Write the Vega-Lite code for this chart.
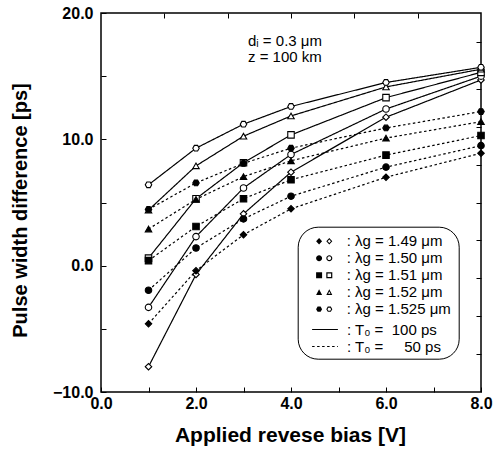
{
  "$schema": "https://vega.github.io/schema/vega-lite/v6.json",
  "width": 380,
  "height": 379,
  "autosize": {"type": "none"},
  "padding": {"left": 101, "top": 13, "right": 21, "bottom": 60},
  "background": "white",
  "config": {
    "view": {"stroke": "black", "strokeWidth": 1.5, "fill": "white"},
    "font": "Liberation Sans",
    "axis": {"grid": false, "domain": false, "tickColor": "black", "tickWidth": 1, "labelColor": "black", "titleColor": "black", "labelFont": "Liberation Sans", "titleFont": "Liberation Sans"},
    "legend": {"labelFont": "Liberation Sans", "titleFont": "Liberation Sans", "labelColor": "black"}
  },
  "title": {
    "text": ["dᵢ = 0.3 μm", "z = 100 km"],
    "orient": "top", "anchor": "start", "frame": "group",
    "offset": 0, "dx": 147, "dy": 60, "baseline": "top",
    "font": "Liberation Sans", "fontSize": 15, "fontWeight": "normal", "lineHeight": 16, "color": "black"
  },
  "data": {
    "values": [
      {"lambda": "1.49", "T0": "100", "bias": 1, "diff": -8.0},
      {"lambda": "1.49", "T0": "100", "bias": 2, "diff": -0.7},
      {"lambda": "1.49", "T0": "100", "bias": 3, "diff": 4.1},
      {"lambda": "1.49", "T0": "100", "bias": 4, "diff": 7.4},
      {"lambda": "1.49", "T0": "100", "bias": 6, "diff": 11.75},
      {"lambda": "1.49", "T0": "100", "bias": 8, "diff": 14.7},
      {"lambda": "1.49", "T0": "50", "bias": 1, "diff": -4.6},
      {"lambda": "1.49", "T0": "50", "bias": 2, "diff": -0.4},
      {"lambda": "1.49", "T0": "50", "bias": 3, "diff": 2.45},
      {"lambda": "1.49", "T0": "50", "bias": 4, "diff": 4.5},
      {"lambda": "1.49", "T0": "50", "bias": 6, "diff": 7.0},
      {"lambda": "1.49", "T0": "50", "bias": 8, "diff": 8.9},
      {"lambda": "1.50", "T0": "100", "bias": 1, "diff": -3.3},
      {"lambda": "1.50", "T0": "100", "bias": 2, "diff": 2.3},
      {"lambda": "1.50", "T0": "100", "bias": 3, "diff": 6.15},
      {"lambda": "1.50", "T0": "100", "bias": 4, "diff": 8.8},
      {"lambda": "1.50", "T0": "100", "bias": 6, "diff": 12.4},
      {"lambda": "1.50", "T0": "100", "bias": 8, "diff": 15.0},
      {"lambda": "1.50", "T0": "50", "bias": 1, "diff": -1.95},
      {"lambda": "1.50", "T0": "50", "bias": 2, "diff": 1.4},
      {"lambda": "1.50", "T0": "50", "bias": 3, "diff": 3.7},
      {"lambda": "1.50", "T0": "50", "bias": 4, "diff": 5.5},
      {"lambda": "1.50", "T0": "50", "bias": 6, "diff": 7.8},
      {"lambda": "1.50", "T0": "50", "bias": 8, "diff": 9.5},
      {"lambda": "1.51", "T0": "100", "bias": 1, "diff": 0.6},
      {"lambda": "1.51", "T0": "100", "bias": 2, "diff": 5.3},
      {"lambda": "1.51", "T0": "100", "bias": 3, "diff": 8.15},
      {"lambda": "1.51", "T0": "100", "bias": 4, "diff": 10.35},
      {"lambda": "1.51", "T0": "100", "bias": 6, "diff": 13.3},
      {"lambda": "1.51", "T0": "100", "bias": 8, "diff": 15.3},
      {"lambda": "1.51", "T0": "50", "bias": 1, "diff": 0.4},
      {"lambda": "1.51", "T0": "50", "bias": 2, "diff": 3.1},
      {"lambda": "1.51", "T0": "50", "bias": 3, "diff": 5.3},
      {"lambda": "1.51", "T0": "50", "bias": 4, "diff": 6.8},
      {"lambda": "1.51", "T0": "50", "bias": 6, "diff": 8.75},
      {"lambda": "1.51", "T0": "50", "bias": 8, "diff": 10.3},
      {"lambda": "1.52", "T0": "100", "bias": 1, "diff": 4.4},
      {"lambda": "1.52", "T0": "100", "bias": 2, "diff": 7.9},
      {"lambda": "1.52", "T0": "100", "bias": 3, "diff": 10.25},
      {"lambda": "1.52", "T0": "100", "bias": 4, "diff": 11.85},
      {"lambda": "1.52", "T0": "100", "bias": 6, "diff": 14.15},
      {"lambda": "1.52", "T0": "100", "bias": 8, "diff": 15.55},
      {"lambda": "1.52", "T0": "50", "bias": 1, "diff": 2.9},
      {"lambda": "1.52", "T0": "50", "bias": 2, "diff": 5.25},
      {"lambda": "1.52", "T0": "50", "bias": 3, "diff": 7.05},
      {"lambda": "1.52", "T0": "50", "bias": 4, "diff": 8.3},
      {"lambda": "1.52", "T0": "50", "bias": 6, "diff": 10.1},
      {"lambda": "1.52", "T0": "50", "bias": 8, "diff": 11.4},
      {"lambda": "1.525", "T0": "100", "bias": 1, "diff": 6.4},
      {"lambda": "1.525", "T0": "100", "bias": 2, "diff": 9.3},
      {"lambda": "1.525", "T0": "100", "bias": 3, "diff": 11.2},
      {"lambda": "1.525", "T0": "100", "bias": 4, "diff": 12.6},
      {"lambda": "1.525", "T0": "100", "bias": 6, "diff": 14.5},
      {"lambda": "1.525", "T0": "100", "bias": 8, "diff": 15.7},
      {"lambda": "1.525", "T0": "50", "bias": 1, "diff": 4.45},
      {"lambda": "1.525", "T0": "50", "bias": 2, "diff": 6.55},
      {"lambda": "1.525", "T0": "50", "bias": 3, "diff": 8.1},
      {"lambda": "1.525", "T0": "50", "bias": 4, "diff": 9.3},
      {"lambda": "1.525", "T0": "50", "bias": 6, "diff": 10.9},
      {"lambda": "1.525", "T0": "50", "bias": 8, "diff": 12.2}
    ]
  },
  "layer": [
    {
      "mark": {"type": "line", "color": "black", "strokeWidth": 1.2},
      "encoding": {
        "x": {"field": "bias", "type": "quantitative", "scale": {"domain": [0, 8], "nice": false},
          "axis": {"orient": "bottom", "values": [0, 1, 2, 3, 4, 5, 6, 7, 8], "labelExpr": "datum.value % 2 === 0 ? format(datum.value, '.1f') : ''",
            "tickSize": -5, "labelPadding": 8, "labelFontSize": 16, "labelFontWeight": "bold", "labelFlush": false,
            "title": "Applied revese bias [V]", "titleFontSize": 21, "titleFontWeight": "bold", "titleX": 189, "titleY": 43, "titleBaseline": "middle", "titleAnchor": "middle"}},
        "y": {"field": "diff", "type": "quantitative", "scale": {"domain": [-10, 20], "nice": false},
          "axis": {"orient": "left", "values": [-10, -5, 0, 5, 10, 15, 20], "labelExpr": "datum.value % 10 === 0 ? format(datum.value, '.1f') : ''",
            "tickSize": -5, "labelPadding": 13, "labelFontSize": 16, "labelFontWeight": "bold", "labelFlush": false,
            "title": "Pulse width difference [ps]", "titleFontSize": 20, "titleFontWeight": "bold", "titleX": -81, "titleY": 197, "titleBaseline": "middle", "titleAngle": -90, "titleAnchor": "middle"}},
        "detail": {"field": "lambda", "type": "nominal"},
        "strokeDash": {"field": "T0", "type": "nominal",
          "scale": {"domain": ["100", "50"], "range": [[1, 0], [2.5, 2.5]]},
          "legend": {"orient": "none", "legendX": 216.5, "legendY": 309, "title": null, "padding": 0,
            "symbolType": "M-4.3,0L4.3,0", "symbolSize": 36, "symbolStrokeColor": "black", "symbolStrokeWidth": 1.2,
            "labelOffset": 14.5, "rowPadding": 1, "labelFontSize": 15,
            "labelExpr": "datum.value === '100' ? ': T₀ =\u00a0\u00a0100 ps' : ': T₀ =\u00a0\u00a0\u2007\u00a050 ps'"}}
      }
    },
    {
      "mark": {"type": "point", "stroke": "black", "strokeWidth": 1.1, "size": 42, "opacity": 1},
      "encoding": {
        "x": {"field": "bias", "type": "quantitative",
          "axis": {"orient": "top", "values": [1.333, 2.667, 4, 5.333, 6.667], "labels": false, "title": null, "tickSize": -5}},
        "y": {"field": "diff", "type": "quantitative",
          "axis": {"orient": "right", "values": [-7, -4, -1, 2, 5, 8, 11, 14, 17.7], "labels": false, "title": null, "tickSize": -5}},
        "shape": {"field": "lambda", "type": "nominal",
          "scale": {"domain": ["1.49", "1.50", "1.51", "1.52", "1.525"], "range": ["diamond", "circle", "square", "triangle-up", "M-1,0L-0.5,-0.87L0.5,-0.87L1,0L0.5,0.87L-0.5,0.87Z"]},
          "legend": null},
        "fill": {"field": "T0", "type": "nominal", "scale": {"domain": ["100", "50"], "range": ["white", "black"]}, "legend": null}
      }
    },
    {
      "mark": {"type": "point", "filled": true, "color": "black", "opacity": 0, "size": 36, "strokeWidth": 0},
      "encoding": {
        "x": {"field": "bias", "type": "quantitative", "axis": null},
        "y": {"field": "diff", "type": "quantitative", "axis": null},
        "shape": {"field": "lambda", "type": "nominal",
          "scale": {"domain": ["1.49", "1.50", "1.51", "1.52", "1.525"], "range": [
            "M-2.7,0L-1.7,-1.1L-0.7,0L-1.7,1.1ZM0.7,0L1.7,-1.1L2.7,0L1.7,1.1ZM1.15,0L1.7,0.6L2.25,0L1.7,-0.6Z",
            "M-2.7,0A1,1 0 1,0 -0.7,0A1,1 0 1,0 -2.7,0ZM0.7,0A1,1 0 1,0 2.7,0A1,1 0 1,0 0.7,0ZM1.08,0A0.62,0.62 0 1,1 2.32,0A0.62,0.62 0 1,1 1.08,0Z",
            "M-2.7,-1L-0.7,-1L-0.7,1L-2.7,1ZM0.7,-1L2.7,-1L2.7,1L0.7,1ZM1.1,-0.6L1.1,0.6L2.3,0.6L2.3,-0.6Z",
            "M-2.7,0.9L-1.7,-1L-0.7,0.9ZM0.7,0.9L1.7,-1L2.7,0.9ZM1.3,0.55L2.1,0.55L1.7,-0.25Z",
            "M-0.7,0L-1.2,-0.87L-2.2,-0.87L-2.7,0L-2.2,0.87L-1.2,0.87ZM2.7,0L2.2,-0.87L1.2,-0.87L0.7,0L1.2,0.87L2.2,0.87ZM2.3,0L2,0.52L1.4,0.52L1.1,0L1.4,-0.52L2,-0.52Z"]},
          "legend": {"orient": "none", "legendX": 196.7, "legendY": 213.7,
            "title": [" ", " "], "titleOrient": "bottom", "titleFontSize": 15, "titleLineHeight": 17.5, "titlePadding": 1,
            "strokeColor": "black", "cornerRadius": 20, "padding": 7,
            "symbolSize": 36, "symbolOffset": 12, "labelOffset": 15, "rowPadding": 1, "labelFontSize": 15,
            "symbolOpacity": 1, "symbolFillColor": "black", "symbolStrokeWidth": 0,
            "labelExpr": "': λg = ' + datum.value + ' μm'"}}
      }
    }
  ],
  "resolve": {"axis": {"x": "independent", "y": "independent"}, "scale": {"shape": "independent"}}
}
